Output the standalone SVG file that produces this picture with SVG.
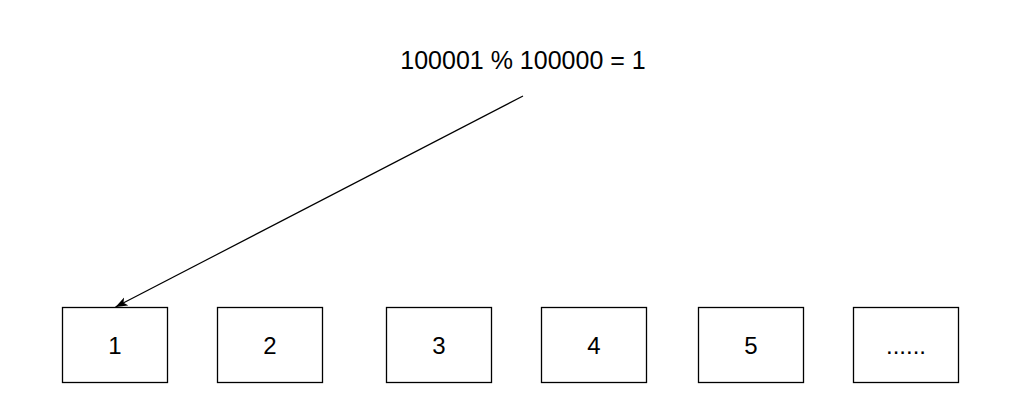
<svg xmlns="http://www.w3.org/2000/svg" width="1016" height="420" viewBox="0 0 1016 420">
<style>
.box{fill:#fff;stroke:#000;stroke-width:1.3}
.t{font-family:"Liberation Sans",Arial,sans-serif;font-size:24px;fill:#000;text-anchor:middle}
.title{font-size:25px}
.c{stroke:#000;stroke-width:1.2;fill:none}
</style>
<defs>
<marker id="ah" markerWidth="14" markerHeight="10" refX="12" refY="5" orient="auto" markerUnits="userSpaceOnUse">
<path d="M0,0.5 L12,5 L0,9.5 L3,5 Z" fill="#000"/>
</marker>
</defs>
<rect width="1016" height="420" fill="#fff"/>
<g id="label"><text class="t title" x="523" y="69">100001 % 100000 = 1</text></g>
<g id="connectors"><line class="c" x1="523" y1="96" x2="115.5" y2="307" marker-end="url(#ah)"/></g>
<g id="n1"><rect class="box" x="62.5" y="307.5" width="105" height="75"/><text class="t" x="115" y="354">1</text></g>
<g id="n2"><rect class="box" x="217.5" y="307.5" width="105" height="75"/><text class="t" x="270" y="354">2</text></g>
<g id="n3"><rect class="box" x="386.5" y="307.5" width="105" height="75"/><text class="t" x="439" y="354">3</text></g>
<g id="n4"><rect class="box" x="541.5" y="307.5" width="105" height="75"/><text class="t" x="594" y="354">4</text></g>
<g id="n5"><rect class="box" x="698.5" y="307.5" width="105" height="75"/><text class="t" x="751" y="354">5</text></g>
<g id="n6"><rect class="box" x="853.5" y="307.5" width="105" height="75"/><text class="t" x="906" y="354">......</text></g>
</svg>
